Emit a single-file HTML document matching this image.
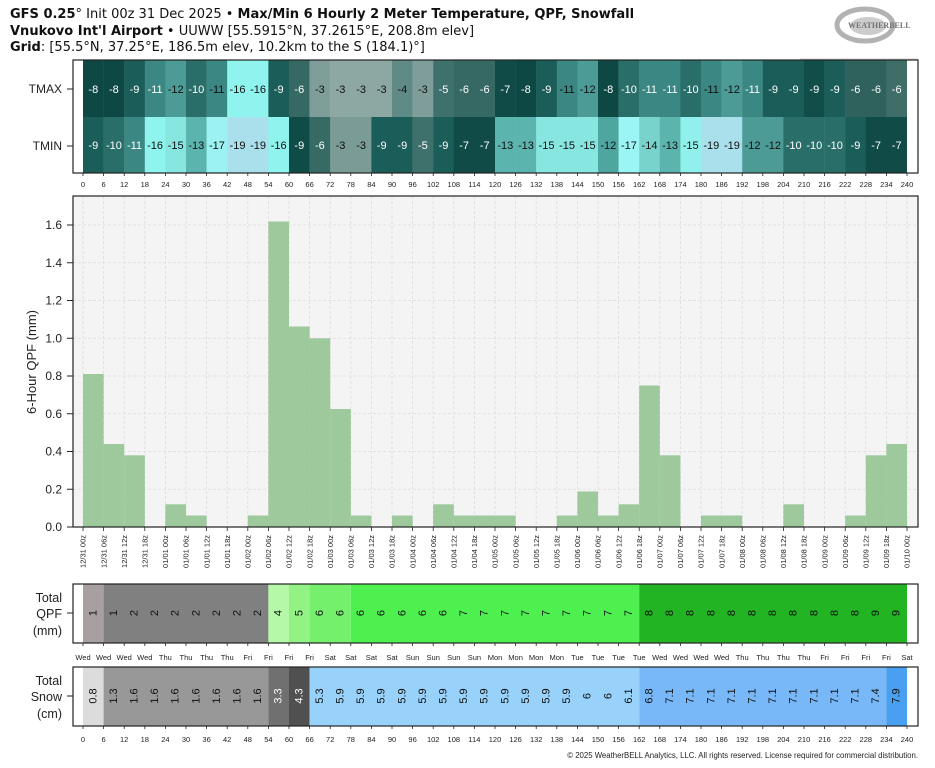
<!DOCTYPE html>
<html><head><meta charset="utf-8"><style>
html,body{margin:0;padding:0;background:#fff}
svg{display:block;font-family:"Liberation Sans","DejaVu Sans",sans-serif}
.w{fill:#fff;font-size:11px}.k{fill:#111;font-size:11px}
.tk{font-size:7.5px;fill:#222}
.gl{stroke:#dcdcdc;stroke-width:0.8;stroke-dasharray:3,2}
.ttl{font-family:"DejaVu Sans","Liberation Sans",sans-serif;font-size:13px;fill:#111}
</style></head><body>
<svg width="935" height="768" viewBox="0 0 935 768" xmlns="http://www.w3.org/2000/svg">
<rect width="935" height="768" fill="#fff"/>
<text class="ttl" x="10" y="18"><tspan font-weight="bold">GFS 0.25</tspan>° Init 00z 31 Dec 2025 • <tspan font-weight="bold">Max/Min 6 Hourly 2 Meter Temperature, QPF, Snowfall</tspan></text>
<text class="ttl" x="10" y="35"><tspan font-weight="bold">Vnukovo Int'l Airport</tspan> • UUWW [55.5915°N, 37.2615°E, 208.8m elev]</text>
<text class="ttl" x="10" y="51"><tspan font-weight="bold">Grid</tspan>: [55.5°N, 37.25°E, 186.5m elev, 10.2km to the S (184.1)°]</text>
<g opacity="0.75">
<ellipse cx="865" cy="25" rx="28" ry="16" fill="none" stroke="#999" stroke-width="5"/>
<ellipse cx="868" cy="26" rx="18" ry="9" fill="#bbb"/>
<text x="848" y="28" font-size="8" font-weight="bold" fill="#444" font-family="Liberation Serif,serif">WEATHERBELL</text>
</g>
<line x1="800" y1="59" x2="918" y2="59" stroke="#ccc"/>

<rect x="73" y="60" width="845" height="113" fill="#fff"/>
<g transform="translate(83,0)">
<g>
<rect x="0" y="60" width="20.8" height="57" fill="#0e4844"/>
<rect x="20.6" y="60" width="20.8" height="57" fill="#0e4844"/>
<rect x="41.2" y="60" width="20.8" height="57" fill="#1b5d59"/>
<rect x="61.8" y="60" width="20.8" height="57" fill="#3b8783"/>
<rect x="82.4" y="60" width="20.8" height="57" fill="#4c9b97"/>
<rect x="103" y="60" width="20.8" height="57" fill="#2a6e69"/>
<rect x="123.6" y="60" width="20.8" height="57" fill="#3b8783"/>
<rect x="144.2" y="60" width="20.8" height="57" fill="#8ff3ee"/>
<rect x="164.8" y="60" width="20.8" height="57" fill="#8ff3ee"/>
<rect x="185.4" y="60" width="20.8" height="57" fill="#1b5d59"/>
<rect x="206" y="60" width="20.8" height="57" fill="#376964"/>
<rect x="226.6" y="60" width="20.8" height="57" fill="#7f9e99"/>
<rect x="247.2" y="60" width="20.8" height="57" fill="#8da8a2"/>
<rect x="267.8" y="60" width="20.8" height="57" fill="#8da8a2"/>
<rect x="288.4" y="60" width="20.8" height="57" fill="#8da8a2"/>
<rect x="309" y="60" width="20.8" height="57" fill="#5f8a85"/>
<rect x="329.6" y="60" width="20.8" height="57" fill="#7f9e99"/>
<rect x="350.2" y="60" width="20.8" height="57" fill="#3f716c"/>
<rect x="370.8" y="60" width="20.8" height="57" fill="#376964"/>
<rect x="391.4" y="60" width="20.8" height="57" fill="#376964"/>
<rect x="412" y="60" width="20.8" height="57" fill="#114b47"/>
<rect x="432.6" y="60" width="20.8" height="57" fill="#0e4844"/>
<rect x="453.2" y="60" width="20.8" height="57" fill="#1b5d59"/>
<rect x="473.8" y="60" width="20.8" height="57" fill="#3b8783"/>
<rect x="494.4" y="60" width="20.8" height="57" fill="#4c9b97"/>
<rect x="515" y="60" width="20.8" height="57" fill="#0e4844"/>
<rect x="535.6" y="60" width="20.8" height="57" fill="#2a6e69"/>
<rect x="556.2" y="60" width="20.8" height="57" fill="#3b8783"/>
<rect x="576.8" y="60" width="20.8" height="57" fill="#3b8783"/>
<rect x="597.4" y="60" width="20.8" height="57" fill="#2a6e69"/>
<rect x="618" y="60" width="20.8" height="57" fill="#3b8783"/>
<rect x="638.6" y="60" width="20.8" height="57" fill="#4c9b97"/>
<rect x="659.2" y="60" width="20.8" height="57" fill="#3b8783"/>
<rect x="679.8" y="60" width="20.8" height="57" fill="#1b5d59"/>
<rect x="700.4" y="60" width="20.8" height="57" fill="#1b5d59"/>
<rect x="721" y="60" width="20.8" height="57" fill="#114e4a"/>
<rect x="741.6" y="60" width="20.8" height="57" fill="#1b5d59"/>
<rect x="762.2" y="60" width="20.8" height="57" fill="#2f625d"/>
<rect x="782.8" y="60" width="20.8" height="57" fill="#2f625d"/>
<rect x="803.4" y="60" width="20.6" height="57" fill="#3f6e69"/>
</g>
<g>
<rect x="0" y="117" width="20.8" height="56" fill="#1b5d59"/>
<rect x="20.6" y="117" width="20.8" height="56" fill="#2a6e69"/>
<rect x="41.2" y="117" width="20.8" height="56" fill="#3b8783"/>
<rect x="61.8" y="117" width="20.8" height="56" fill="#8ff3ee"/>
<rect x="82.4" y="117" width="20.8" height="56" fill="#88e6e1"/>
<rect x="103" y="117" width="20.8" height="56" fill="#5cb4ae"/>
<rect x="123.6" y="117" width="20.8" height="56" fill="#9cf2f2"/>
<rect x="144.2" y="117" width="20.8" height="56" fill="#aadfec"/>
<rect x="164.8" y="117" width="20.8" height="56" fill="#aadfec"/>
<rect x="185.4" y="117" width="20.8" height="56" fill="#8ff3ee"/>
<rect x="206" y="117" width="20.8" height="56" fill="#0f4c48"/>
<rect x="226.6" y="117" width="20.8" height="56" fill="#356a65"/>
<rect x="247.2" y="117" width="20.8" height="56" fill="#7b9b97"/>
<rect x="267.8" y="117" width="20.8" height="56" fill="#7b9b97"/>
<rect x="288.4" y="117" width="20.8" height="56" fill="#1b5d59"/>
<rect x="309" y="117" width="20.8" height="56" fill="#1b5d59"/>
<rect x="329.6" y="117" width="20.8" height="56" fill="#3f716c"/>
<rect x="350.2" y="117" width="20.8" height="56" fill="#1b5d59"/>
<rect x="370.8" y="117" width="20.8" height="56" fill="#114b47"/>
<rect x="391.4" y="117" width="20.8" height="56" fill="#114b47"/>
<rect x="412" y="117" width="20.8" height="56" fill="#5cb4ae"/>
<rect x="432.6" y="117" width="20.8" height="56" fill="#5cb4ae"/>
<rect x="453.2" y="117" width="20.8" height="56" fill="#88e6e1"/>
<rect x="473.8" y="117" width="20.8" height="56" fill="#88e6e1"/>
<rect x="494.4" y="117" width="20.8" height="56" fill="#88e6e1"/>
<rect x="515" y="117" width="20.8" height="56" fill="#4fa5a0"/>
<rect x="535.6" y="117" width="20.8" height="56" fill="#9cf5f5"/>
<rect x="556.2" y="117" width="20.8" height="56" fill="#78d3cd"/>
<rect x="576.8" y="117" width="20.8" height="56" fill="#5cb4ae"/>
<rect x="597.4" y="117" width="20.8" height="56" fill="#8ff0ec"/>
<rect x="618" y="117" width="20.8" height="56" fill="#aadfec"/>
<rect x="638.6" y="117" width="20.8" height="56" fill="#aadfec"/>
<rect x="659.2" y="117" width="20.8" height="56" fill="#4c9b97"/>
<rect x="679.8" y="117" width="20.8" height="56" fill="#4c9b97"/>
<rect x="700.4" y="117" width="20.8" height="56" fill="#2a6e69"/>
<rect x="721" y="117" width="20.8" height="56" fill="#2a6e69"/>
<rect x="741.6" y="117" width="20.8" height="56" fill="#2a6e69"/>
<rect x="762.2" y="117" width="20.8" height="56" fill="#1b5d59"/>
<rect x="782.8" y="117" width="20.8" height="56" fill="#114b47"/>
<rect x="803.4" y="117" width="20.6" height="56" fill="#114b47"/>
</g>
<g text-anchor="middle">
<text class="w" x="10.3" y="93">-8</text><text class="w" x="30.9" y="93">-8</text><text class="w" x="51.5" y="93">-9</text><text class="w" x="72.1" y="93">-11</text><text class="k" x="92.7" y="93">-12</text><text class="w" x="113.3" y="93">-10</text><text class="k" x="133.9" y="93">-11</text><text class="k" x="154.5" y="93">-16</text><text class="k" x="175.1" y="93">-16</text><text class="w" x="195.7" y="93">-9</text><text class="w" x="216.3" y="93">-6</text><text class="k" x="236.9" y="93">-3</text><text class="k" x="257.5" y="93">-3</text><text class="k" x="278.1" y="93">-3</text><text class="k" x="298.7" y="93">-3</text><text class="k" x="319.3" y="93">-4</text><text class="k" x="339.9" y="93">-3</text><text class="w" x="360.5" y="93">-5</text><text class="w" x="381.1" y="93">-6</text><text class="w" x="401.7" y="93">-6</text><text class="w" x="422.3" y="93">-7</text><text class="w" x="442.9" y="93">-8</text><text class="w" x="463.5" y="93">-9</text><text class="k" x="484.1" y="93">-11</text><text class="k" x="504.7" y="93">-12</text><text class="w" x="525.3" y="93">-8</text><text class="w" x="545.9" y="93">-10</text><text class="w" x="566.5" y="93">-11</text><text class="w" x="587.1" y="93">-11</text><text class="w" x="607.7" y="93">-10</text><text class="k" x="628.3" y="93">-11</text><text class="k" x="648.9" y="93">-12</text><text class="w" x="669.5" y="93">-11</text><text class="w" x="690.1" y="93">-9</text><text class="w" x="710.7" y="93">-9</text><text class="w" x="731.3" y="93">-9</text><text class="w" x="751.9" y="93">-9</text><text class="w" x="772.5" y="93">-6</text><text class="w" x="793.1" y="93">-6</text><text class="w" x="813.7" y="93">-6</text>
<text class="w" x="10.3" y="149">-9</text><text class="w" x="30.9" y="149">-10</text><text class="w" x="51.5" y="149">-11</text><text class="k" x="72.1" y="149">-16</text><text class="k" x="92.7" y="149">-15</text><text class="k" x="113.3" y="149">-13</text><text class="k" x="133.9" y="149">-17</text><text class="k" x="154.5" y="149">-19</text><text class="k" x="175.1" y="149">-19</text><text class="k" x="195.7" y="149">-16</text><text class="w" x="216.3" y="149">-9</text><text class="w" x="236.9" y="149">-6</text><text class="k" x="257.5" y="149">-3</text><text class="k" x="278.1" y="149">-3</text><text class="w" x="298.7" y="149">-9</text><text class="w" x="319.3" y="149">-9</text><text class="w" x="339.9" y="149">-5</text><text class="w" x="360.5" y="149">-9</text><text class="w" x="381.1" y="149">-7</text><text class="w" x="401.7" y="149">-7</text><text class="k" x="422.3" y="149">-13</text><text class="k" x="442.9" y="149">-13</text><text class="k" x="463.5" y="149">-15</text><text class="k" x="484.1" y="149">-15</text><text class="k" x="504.7" y="149">-15</text><text class="k" x="525.3" y="149">-12</text><text class="k" x="545.9" y="149">-17</text><text class="k" x="566.5" y="149">-14</text><text class="k" x="587.1" y="149">-13</text><text class="k" x="607.7" y="149">-15</text><text class="k" x="628.3" y="149">-19</text><text class="k" x="648.9" y="149">-19</text><text class="k" x="669.5" y="149">-12</text><text class="k" x="690.1" y="149">-12</text><text class="w" x="710.7" y="149">-10</text><text class="w" x="731.3" y="149">-10</text><text class="w" x="751.9" y="149">-10</text><text class="w" x="772.5" y="149">-9</text><text class="w" x="793.1" y="149">-7</text><text class="w" x="813.7" y="149">-7</text>
</g>
</g>
<rect x="73" y="60" width="845" height="113" fill="none" stroke="#222" stroke-width="1.2"/>
<text x="62" y="93" font-size="12" text-anchor="end" fill="#222">TMAX</text>
<text x="62" y="150" font-size="12" text-anchor="end" fill="#222">TMIN</text>
<line x1="67" y1="89" x2="73" y2="89" stroke="#222"/><line x1="67" y1="146" x2="73" y2="146" stroke="#222"/>

<g transform="translate(83,0)" text-anchor="middle" class="tk">
<path stroke="#222" stroke-width="0.8" d="M0 173v3M20.6 173v3M41.2 173v3M61.8 173v3M82.4 173v3M103 173v3M123.6 173v3M144.2 173v3M164.8 173v3M185.4 173v3M206 173v3M226.6 173v3M247.2 173v3M267.8 173v3M288.4 173v3M309 173v3M329.6 173v3M350.2 173v3M370.8 173v3M391.4 173v3M412 173v3M432.6 173v3M453.2 173v3M473.8 173v3M494.4 173v3M515 173v3M535.6 173v3M556.2 173v3M576.8 173v3M597.4 173v3M618 173v3M638.6 173v3M659.2 173v3M679.8 173v3M700.4 173v3M721 173v3M741.6 173v3M762.2 173v3M782.8 173v3M803.4 173v3M824 173v3"/>
<text x="0" y="187">0</text><text x="20.6" y="187">6</text><text x="41.2" y="187">12</text><text x="61.8" y="187">18</text><text x="82.4" y="187">24</text><text x="103" y="187">30</text><text x="123.6" y="187">36</text><text x="144.2" y="187">42</text><text x="164.8" y="187">48</text><text x="185.4" y="187">54</text><text x="206" y="187">60</text><text x="226.6" y="187">66</text><text x="247.2" y="187">72</text><text x="267.8" y="187">78</text><text x="288.4" y="187">84</text><text x="309" y="187">90</text><text x="329.6" y="187">96</text><text x="350.2" y="187">102</text><text x="370.8" y="187">108</text><text x="391.4" y="187">114</text><text x="412" y="187">120</text><text x="432.6" y="187">126</text><text x="453.2" y="187">132</text><text x="473.8" y="187">138</text><text x="494.4" y="187">144</text><text x="515" y="187">150</text><text x="535.6" y="187">156</text><text x="556.2" y="187">162</text><text x="576.8" y="187">168</text><text x="597.4" y="187">174</text><text x="618" y="187">180</text><text x="638.6" y="187">186</text><text x="659.2" y="187">192</text><text x="679.8" y="187">198</text><text x="700.4" y="187">204</text><text x="721" y="187">210</text><text x="741.6" y="187">216</text><text x="762.2" y="187">222</text><text x="782.8" y="187">228</text><text x="803.4" y="187">234</text><text x="824" y="187">240</text>
</g>

<rect x="73" y="196" width="845" height="331" fill="#f4f4f4"/>
<g class="gl">
<path d="M73 489.25H918M73 451.5H918M73 413.75H918M73 376H918M73 338.25H918M73 300.5H918M73 262.75H918M73 225H918"/>
<g transform="translate(83,0)"><path d="M0 196V527M20.6 196V527M41.2 196V527M61.8 196V527M82.4 196V527M103 196V527M123.6 196V527M144.2 196V527M164.8 196V527M185.4 196V527M206 196V527M226.6 196V527M247.2 196V527M267.8 196V527M288.4 196V527M309 196V527M329.6 196V527M350.2 196V527M370.8 196V527M391.4 196V527M412 196V527M432.6 196V527M453.2 196V527M473.8 196V527M494.4 196V527M515 196V527M535.6 196V527M556.2 196V527M576.8 196V527M597.4 196V527M618 196V527M638.6 196V527M659.2 196V527M679.8 196V527M700.4 196V527M721 196V527M741.6 196V527M762.2 196V527M782.8 196V527M803.4 196V527M824 196V527"/></g>
</g>
<g transform="translate(83,0)" fill="#9dc99c">
<rect x="0" y="374" width="20.6" height="153"/>
<rect x="20.6" y="444" width="20.6" height="83"/>
<rect x="41.2" y="455.3" width="20.6" height="71.7"/>
<rect x="82.4" y="504.3" width="20.6" height="22.7"/>
<rect x="103" y="515.5" width="20.6" height="11.5"/>
<rect x="164.8" y="515.5" width="20.6" height="11.5"/>
<rect x="185.4" y="221.5" width="20.6" height="305.5"/>
<rect x="206" y="326.5" width="20.6" height="200.5"/>
<rect x="226.6" y="338.3" width="20.6" height="188.7"/>
<rect x="247.2" y="409" width="20.6" height="118"/>
<rect x="267.8" y="515.5" width="20.6" height="11.5"/>
<rect x="309" y="515.5" width="20.6" height="11.5"/>
<rect x="350.2" y="504.3" width="20.6" height="22.7"/>
<rect x="370.8" y="515.5" width="61.8" height="11.5"/>
<rect x="473.8" y="515.5" width="20.6" height="11.5"/>
<rect x="494.4" y="491.5" width="20.6" height="35.5"/>
<rect x="515" y="515.5" width="20.6" height="11.5"/>
<rect x="535.6" y="504.3" width="20.6" height="22.7"/>
<rect x="556.2" y="385.5" width="20.6" height="141.5"/>
<rect x="576.8" y="455.3" width="20.6" height="71.7"/>
<rect x="618" y="515.5" width="41.2" height="11.5"/>
<rect x="700.4" y="504.3" width="20.6" height="22.7"/>
<rect x="762.2" y="515.5" width="20.6" height="11.5"/>
<rect x="782.8" y="455.3" width="20.6" height="71.7"/>
<rect x="803.4" y="444" width="20.6" height="83"/>
</g>
<rect x="73" y="196" width="845" height="331" fill="none" stroke="#222" stroke-width="1.2"/>
<g font-size="12" fill="#222" text-anchor="end">
<text x="62" y="531">0.0</text><text x="62" y="493.5">0.2</text><text x="62" y="455.7">0.4</text><text x="62" y="418">0.6</text><text x="62" y="380.2">0.8</text><text x="62" y="342.5">1.0</text><text x="62" y="304.7">1.2</text><text x="62" y="267">1.4</text><text x="62" y="229.2">1.6</text>
</g>
<path d="M67 527h6M67 489.25h6M67 451.5h6M67 413.75h6M67 376h6M67 338.25h6M67 300.5h6M67 262.75h6M67 225h6" stroke="#222"/>
<text transform="translate(36,362) rotate(-90)" font-size="13" text-anchor="middle" fill="#222">6-Hour QPF (mm)</text>
<g transform="translate(83,0)">
<path stroke="#222" stroke-width="0.8" d="M0 527v4M20.6 527v4M41.2 527v4M61.8 527v4M82.4 527v4M103 527v4M123.6 527v4M144.2 527v4M164.8 527v4M185.4 527v4M206 527v4M226.6 527v4M247.2 527v4M267.8 527v4M288.4 527v4M309 527v4M329.6 527v4M350.2 527v4M370.8 527v4M391.4 527v4M412 527v4M432.6 527v4M453.2 527v4M473.8 527v4M494.4 527v4M515 527v4M535.6 527v4M556.2 527v4M576.8 527v4M597.4 527v4M618 527v4M638.6 527v4M659.2 527v4M679.8 527v4M700.4 527v4M721 527v4M741.6 527v4M762.2 527v4M782.8 527v4M803.4 527v4M824 527v4"/>
<g class="tk" text-anchor="end">
<text transform="translate(2.7,535) rotate(-90)">12/31 00z</text>
<text transform="translate(23.3,535) rotate(-90)">12/31 06z</text>
<text transform="translate(43.9,535) rotate(-90)">12/31 12z</text>
<text transform="translate(64.5,535) rotate(-90)">12/31 18z</text>
<text transform="translate(85.1,535) rotate(-90)">01/01 00z</text>
<text transform="translate(105.7,535) rotate(-90)">01/01 06z</text>
<text transform="translate(126.3,535) rotate(-90)">01/01 12z</text>
<text transform="translate(146.9,535) rotate(-90)">01/01 18z</text>
<text transform="translate(167.5,535) rotate(-90)">01/02 00z</text>
<text transform="translate(188.1,535) rotate(-90)">01/02 06z</text>
<text transform="translate(208.7,535) rotate(-90)">01/02 12z</text>
<text transform="translate(229.3,535) rotate(-90)">01/02 18z</text>
<text transform="translate(249.9,535) rotate(-90)">01/03 00z</text>
<text transform="translate(270.5,535) rotate(-90)">01/03 06z</text>
<text transform="translate(291.1,535) rotate(-90)">01/03 12z</text>
<text transform="translate(311.7,535) rotate(-90)">01/03 18z</text>
<text transform="translate(332.3,535) rotate(-90)">01/04 00z</text>
<text transform="translate(352.9,535) rotate(-90)">01/04 06z</text>
<text transform="translate(373.5,535) rotate(-90)">01/04 12z</text>
<text transform="translate(394.1,535) rotate(-90)">01/04 18z</text>
<text transform="translate(414.7,535) rotate(-90)">01/05 00z</text>
<text transform="translate(435.3,535) rotate(-90)">01/05 06z</text>
<text transform="translate(455.9,535) rotate(-90)">01/05 12z</text>
<text transform="translate(476.5,535) rotate(-90)">01/05 18z</text>
<text transform="translate(497.1,535) rotate(-90)">01/06 00z</text>
<text transform="translate(517.7,535) rotate(-90)">01/06 06z</text>
<text transform="translate(538.3,535) rotate(-90)">01/06 12z</text>
<text transform="translate(558.9,535) rotate(-90)">01/06 18z</text>
<text transform="translate(579.5,535) rotate(-90)">01/07 00z</text>
<text transform="translate(600.1,535) rotate(-90)">01/07 06z</text>
<text transform="translate(620.7,535) rotate(-90)">01/07 12z</text>
<text transform="translate(641.3,535) rotate(-90)">01/07 18z</text>
<text transform="translate(661.9,535) rotate(-90)">01/08 00z</text>
<text transform="translate(682.5,535) rotate(-90)">01/08 06z</text>
<text transform="translate(703.1,535) rotate(-90)">01/08 12z</text>
<text transform="translate(723.7,535) rotate(-90)">01/08 18z</text>
<text transform="translate(744.3,535) rotate(-90)">01/09 00z</text>
<text transform="translate(764.9,535) rotate(-90)">01/09 06z</text>
<text transform="translate(785.5,535) rotate(-90)">01/09 12z</text>
<text transform="translate(806.1,535) rotate(-90)">01/09 18z</text>
<text transform="translate(826.7,535) rotate(-90)">01/10 00z</text>
</g>
</g>

<rect x="73" y="584" width="845" height="59" fill="#fff"/>
<g transform="translate(83,0)">
<rect x="0" y="584" width="20.6" height="59" fill="#a8a0a0"/>
<rect x="20.6" y="584" width="164.8" height="59" fill="#808080"/>
<rect x="185.4" y="584" width="20.6" height="59" fill="#b4f8a8"/>
<rect x="206" y="584" width="20.6" height="59" fill="#92f384"/>
<rect x="226.6" y="584" width="41.2" height="59" fill="#74f06c"/>
<rect x="267.8" y="584" width="288.4" height="59" fill="#4ef050"/>
<rect x="556.2" y="584" width="267.8" height="59" fill="#22b422"/>
<g class="k" text-anchor="middle" dominant-baseline="central">
<text transform="translate(10.3,613) rotate(-90)">1</text><text transform="translate(30.9,613) rotate(-90)">1</text><text transform="translate(51.5,613) rotate(-90)">2</text><text transform="translate(72.1,613) rotate(-90)">2</text><text transform="translate(92.7,613) rotate(-90)">2</text><text transform="translate(113.3,613) rotate(-90)">2</text><text transform="translate(133.9,613) rotate(-90)">2</text><text transform="translate(154.5,613) rotate(-90)">2</text><text transform="translate(175.1,613) rotate(-90)">2</text><text transform="translate(195.7,613) rotate(-90)">4</text><text transform="translate(216.3,613) rotate(-90)">5</text><text transform="translate(236.9,613) rotate(-90)">6</text><text transform="translate(257.5,613) rotate(-90)">6</text><text transform="translate(278.1,613) rotate(-90)">6</text><text transform="translate(298.7,613) rotate(-90)">6</text><text transform="translate(319.3,613) rotate(-90)">6</text><text transform="translate(339.9,613) rotate(-90)">6</text><text transform="translate(360.5,613) rotate(-90)">6</text><text transform="translate(381.1,613) rotate(-90)">7</text><text transform="translate(401.7,613) rotate(-90)">7</text><text transform="translate(422.3,613) rotate(-90)">7</text><text transform="translate(442.9,613) rotate(-90)">7</text><text transform="translate(463.5,613) rotate(-90)">7</text><text transform="translate(484.1,613) rotate(-90)">7</text><text transform="translate(504.7,613) rotate(-90)">7</text><text transform="translate(525.3,613) rotate(-90)">7</text><text transform="translate(545.9,613) rotate(-90)">7</text><text transform="translate(566.5,613) rotate(-90)">8</text><text transform="translate(587.1,613) rotate(-90)">8</text><text transform="translate(607.7,613) rotate(-90)">8</text><text transform="translate(628.3,613) rotate(-90)">8</text><text transform="translate(648.9,613) rotate(-90)">8</text><text transform="translate(669.5,613) rotate(-90)">8</text><text transform="translate(690.1,613) rotate(-90)">8</text><text transform="translate(710.7,613) rotate(-90)">8</text><text transform="translate(731.3,613) rotate(-90)">8</text><text transform="translate(751.9,613) rotate(-90)">8</text><text transform="translate(772.5,613) rotate(-90)">8</text><text transform="translate(793.1,613) rotate(-90)">9</text><text transform="translate(813.7,613) rotate(-90)">9</text>
</g>
<path stroke="#222" stroke-width="0.8" d="M0 643v3M20.6 643v3M41.2 643v3M61.8 643v3M82.4 643v3M103 643v3M123.6 643v3M144.2 643v3M164.8 643v3M185.4 643v3M206 643v3M226.6 643v3M247.2 643v3M267.8 643v3M288.4 643v3M309 643v3M329.6 643v3M350.2 643v3M370.8 643v3M391.4 643v3M412 643v3M432.6 643v3M453.2 643v3M473.8 643v3M494.4 643v3M515 643v3M535.6 643v3M556.2 643v3M576.8 643v3M597.4 643v3M618 643v3M638.6 643v3M659.2 643v3M679.8 643v3M700.4 643v3M721 643v3M741.6 643v3M762.2 643v3M782.8 643v3M803.4 643v3M824 643v3"/>
<g class="tk" text-anchor="middle">
<text x="0" y="660">Wed</text><text x="20.6" y="660">Wed</text><text x="41.2" y="660">Wed</text><text x="61.8" y="660">Wed</text><text x="82.4" y="660">Thu</text><text x="103" y="660">Thu</text><text x="123.6" y="660">Thu</text><text x="144.2" y="660">Thu</text><text x="164.8" y="660">Fri</text><text x="185.4" y="660">Fri</text><text x="206" y="660">Fri</text><text x="226.6" y="660">Fri</text><text x="247.2" y="660">Sat</text><text x="267.8" y="660">Sat</text><text x="288.4" y="660">Sat</text><text x="309" y="660">Sat</text><text x="329.6" y="660">Sun</text><text x="350.2" y="660">Sun</text><text x="370.8" y="660">Sun</text><text x="391.4" y="660">Sun</text><text x="412" y="660">Mon</text><text x="432.6" y="660">Mon</text><text x="453.2" y="660">Mon</text><text x="473.8" y="660">Mon</text><text x="494.4" y="660">Tue</text><text x="515" y="660">Tue</text><text x="535.6" y="660">Tue</text><text x="556.2" y="660">Tue</text><text x="576.8" y="660">Wed</text><text x="597.4" y="660">Wed</text><text x="618" y="660">Wed</text><text x="638.6" y="660">Wed</text><text x="659.2" y="660">Thu</text><text x="679.8" y="660">Thu</text><text x="700.4" y="660">Thu</text><text x="721" y="660">Thu</text><text x="741.6" y="660">Fri</text><text x="762.2" y="660">Fri</text><text x="782.8" y="660">Fri</text><text x="803.4" y="660">Fri</text><text x="824" y="660">Sat</text>
</g>
</g>
<rect x="73" y="584" width="845" height="59" fill="none" stroke="#222" stroke-width="1.2"/>
<g font-size="12.5" fill="#222" text-anchor="end">
<text x="62" y="602">Total</text><text x="62" y="618">QPF</text><text x="62" y="635">(mm)</text>
</g>
<line x1="67" y1="613" x2="73" y2="613" stroke="#222"/>

<rect x="73" y="667" width="845" height="59" fill="#fff"/>
<g transform="translate(83,0)">
<rect x="0" y="667" width="20.6" height="59" fill="#dcdcdc"/>
<rect x="20.6" y="667" width="164.8" height="59" fill="#989898"/>
<rect x="185.4" y="667" width="20.6" height="59" fill="#707070"/>
<rect x="206" y="667" width="20.6" height="59" fill="#505050"/>
<rect x="226.6" y="667" width="329.6" height="59" fill="#98d2fa"/>
<rect x="556.2" y="667" width="247.2" height="59" fill="#78b8f8"/>
<rect x="803.4" y="667" width="20.6" height="59" fill="#4aa0f0"/>
<g class="k" text-anchor="middle" dominant-baseline="central">
<text transform="translate(10.3,696) rotate(-90)">0.8</text><text transform="translate(30.9,696) rotate(-90)">1.3</text><text transform="translate(51.5,696) rotate(-90)">1.6</text><text transform="translate(72.1,696) rotate(-90)">1.6</text><text transform="translate(92.7,696) rotate(-90)">1.6</text><text transform="translate(113.3,696) rotate(-90)">1.6</text><text transform="translate(133.9,696) rotate(-90)">1.6</text><text transform="translate(154.5,696) rotate(-90)">1.6</text><text transform="translate(175.1,696) rotate(-90)">1.6</text><text class="w" transform="translate(195.7,696) rotate(-90)">3.3</text><text class="w" transform="translate(216.3,696) rotate(-90)">4.3</text><text transform="translate(236.9,696) rotate(-90)">5.3</text><text transform="translate(257.5,696) rotate(-90)">5.9</text><text transform="translate(278.1,696) rotate(-90)">5.9</text><text transform="translate(298.7,696) rotate(-90)">5.9</text><text transform="translate(319.3,696) rotate(-90)">5.9</text><text transform="translate(339.9,696) rotate(-90)">5.9</text><text transform="translate(360.5,696) rotate(-90)">5.9</text><text transform="translate(381.1,696) rotate(-90)">5.9</text><text transform="translate(401.7,696) rotate(-90)">5.9</text><text transform="translate(422.3,696) rotate(-90)">5.9</text><text transform="translate(442.9,696) rotate(-90)">5.9</text><text transform="translate(463.5,696) rotate(-90)">5.9</text><text transform="translate(484.1,696) rotate(-90)">5.9</text><text transform="translate(504.7,696) rotate(-90)">6</text><text transform="translate(525.3,696) rotate(-90)">6</text><text transform="translate(545.9,696) rotate(-90)">6.1</text><text transform="translate(566.5,696) rotate(-90)">6.8</text><text transform="translate(587.1,696) rotate(-90)">7.1</text><text transform="translate(607.7,696) rotate(-90)">7.1</text><text transform="translate(628.3,696) rotate(-90)">7.1</text><text transform="translate(648.9,696) rotate(-90)">7.1</text><text transform="translate(669.5,696) rotate(-90)">7.1</text><text transform="translate(690.1,696) rotate(-90)">7.1</text><text transform="translate(710.7,696) rotate(-90)">7.1</text><text transform="translate(731.3,696) rotate(-90)">7.1</text><text transform="translate(751.9,696) rotate(-90)">7.1</text><text transform="translate(772.5,696) rotate(-90)">7.1</text><text transform="translate(793.1,696) rotate(-90)">7.4</text><text transform="translate(813.7,696) rotate(-90)">7.9</text>
</g>
<path stroke="#222" stroke-width="0.8" d="M0 726v3M20.6 726v3M41.2 726v3M61.8 726v3M82.4 726v3M103 726v3M123.6 726v3M144.2 726v3M164.8 726v3M185.4 726v3M206 726v3M226.6 726v3M247.2 726v3M267.8 726v3M288.4 726v3M309 726v3M329.6 726v3M350.2 726v3M370.8 726v3M391.4 726v3M412 726v3M432.6 726v3M453.2 726v3M473.8 726v3M494.4 726v3M515 726v3M535.6 726v3M556.2 726v3M576.8 726v3M597.4 726v3M618 726v3M638.6 726v3M659.2 726v3M679.8 726v3M700.4 726v3M721 726v3M741.6 726v3M762.2 726v3M782.8 726v3M803.4 726v3M824 726v3"/>
<g class="tk" text-anchor="middle">
<text x="0" y="742">0</text><text x="20.6" y="742">6</text><text x="41.2" y="742">12</text><text x="61.8" y="742">18</text><text x="82.4" y="742">24</text><text x="103" y="742">30</text><text x="123.6" y="742">36</text><text x="144.2" y="742">42</text><text x="164.8" y="742">48</text><text x="185.4" y="742">54</text><text x="206" y="742">60</text><text x="226.6" y="742">66</text><text x="247.2" y="742">72</text><text x="267.8" y="742">78</text><text x="288.4" y="742">84</text><text x="309" y="742">90</text><text x="329.6" y="742">96</text><text x="350.2" y="742">102</text><text x="370.8" y="742">108</text><text x="391.4" y="742">114</text><text x="412" y="742">120</text><text x="432.6" y="742">126</text><text x="453.2" y="742">132</text><text x="473.8" y="742">138</text><text x="494.4" y="742">144</text><text x="515" y="742">150</text><text x="535.6" y="742">156</text><text x="556.2" y="742">162</text><text x="576.8" y="742">168</text><text x="597.4" y="742">174</text><text x="618" y="742">180</text><text x="638.6" y="742">186</text><text x="659.2" y="742">192</text><text x="679.8" y="742">198</text><text x="700.4" y="742">204</text><text x="721" y="742">210</text><text x="741.6" y="742">216</text><text x="762.2" y="742">222</text><text x="782.8" y="742">228</text><text x="803.4" y="742">234</text><text x="824" y="742">240</text>
</g>
</g>
<rect x="73" y="667" width="845" height="59" fill="none" stroke="#222" stroke-width="1.2"/>
<g font-size="12.5" fill="#222" text-anchor="end">
<text x="62" y="685">Total</text><text x="62" y="701">Snow</text><text x="62" y="718">(cm)</text>
</g>
<line x1="67" y1="696" x2="73" y2="696" stroke="#222"/>
<text x="918" y="758" font-size="7.8" text-anchor="end" fill="#222">© 2025 WeatherBELL Analytics, LLC. All rights reserved. License required for commercial distribution.</text>
</svg>
</body></html>
